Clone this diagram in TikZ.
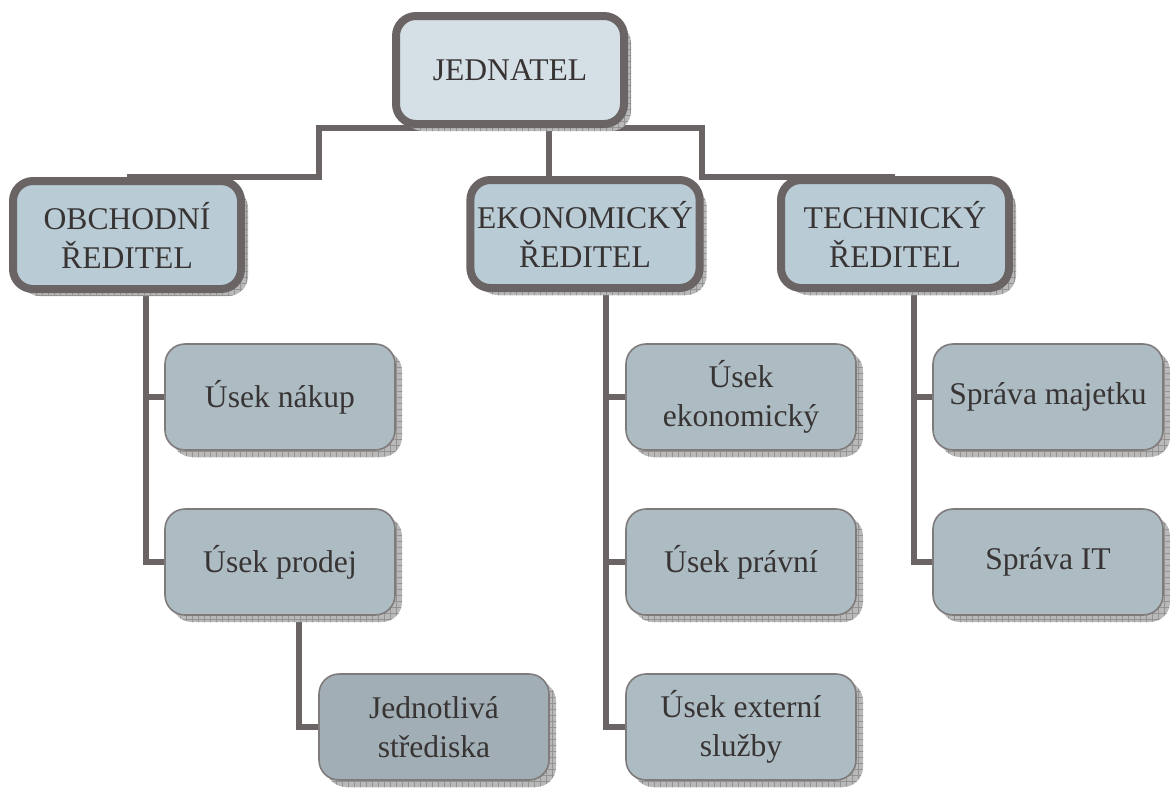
\documentclass[tikz,border=0pt]{standalone}
\usepackage{fontspec}
\setmainfont{Liberation Serif}
\usetikzlibrary{patterns,backgrounds}
\definecolor{linegray}{HTML}{6A6464}
\definecolor{textgray}{HTML}{383434}
\definecolor{headfill}{HTML}{D4DFE6}
\definecolor{dirfill}{HTML}{B9CBD5}
\definecolor{unitfill}{HTML}{ADBBC3}
\definecolor{subfill}{HTML}{A1AEB5}
\tikzset{
  boxshadow/.style={
    preaction={fill=gray!55, transform canvas={xshift=3.5pt,yshift=-3.5pt}},
    preaction={pattern=grid, pattern color=gray!85, transform canvas={xshift=3.5pt,yshift=-3.5pt}}},
  headbox/.style={boxshadow, draw=linegray, line width=4pt, rounded corners=10pt,
    minimum width=114pt, minimum height=54pt, align=center, text=textgray,
    font=\fontsize{15.8}{19.5}\selectfont},
  unitbox/.style={boxshadow, draw=linegray!85, line width=0.8pt, rounded corners=10pt,
    fill=unitfill, minimum width=115pt, minimum height=53pt, align=center, text=textgray,
    font=\fontsize{15.8}{19.5}\selectfont},
  link/.style={draw=linegray, line width=3pt}
}
\begin{document}
\begin{tikzpicture}[x=0.5pt,y=-0.5pt]
  \useasboundingbox (0,0) rectangle (1170,787);
  % vedeni
  \node[headbox, fill=headfill] (jednatel) at (510,70) {JEDNATEL};
  \node[headbox, fill=dirfill] (obchodni) at (127,235) {OBCHODNÍ\\ŘEDITEL};
  \node[headbox, fill=dirfill] (ekonomicky) at (585,234) {EKONOMICKÝ\\ŘEDITEL};
  \node[headbox, fill=dirfill] (technicky) at (895,234) {TECHNICKÝ\\ŘEDITEL};
  % useky
  \node[unitbox] (nakup) at (280,397) {Úsek nákup};
  \node[unitbox] (prodej) at (280,562) {Úsek prodej};
  \node[unitbox, fill=subfill] (strediska) at (434,727) {Jednotlivá\\střediska};
  \node[unitbox] (usekekon) at (741,397) {Úsek\\ekonomický};
  \node[unitbox] (pravni) at (741,562) {Úsek právní};
  \node[unitbox] (externi) at (741,727) {Úsek externí\\služby};
  \node[unitbox] (majetek) at (1048,397) {Správa majetku};
  \node[unitbox] (spravait) at (1048,562) {Správa IT};
  % spojnice
  \begin{scope}[on background layer]
    \coordinate (busL) at (319,177);
    \coordinate (busR) at (702,177);
    \draw[link] (obchodni.north) |- (busL) |- (jednatel.south);
    \draw[link] (technicky.north) |- (busR) |- (jednatel.south);
    \draw[link] ([xshift=19.5pt]jednatel.south) -- ([xshift=19.5pt]jednatel.south |- ekonomicky.north);
    \draw[link] ([xshift=9.5pt]obchodni.south) |- (nakup.west);
    \draw[link] ([xshift=9.5pt]obchodni.south) |- (prodej.west);
    \draw[link] ([xshift=9.5pt]prodej.south) |- (strediska.west);
    \draw[link] ([xshift=10.5pt]ekonomicky.south) |- (usekekon.west);
    \draw[link] ([xshift=10.5pt]ekonomicky.south) |- (pravni.west);
    \draw[link] ([xshift=10.5pt]ekonomicky.south) |- (externi.west);
    \draw[link] ([xshift=9.5pt]technicky.south) |- (majetek.west);
    \draw[link] ([xshift=9.5pt]technicky.south) |- (spravait.west);
  \end{scope}
\end{tikzpicture}
\end{document}
